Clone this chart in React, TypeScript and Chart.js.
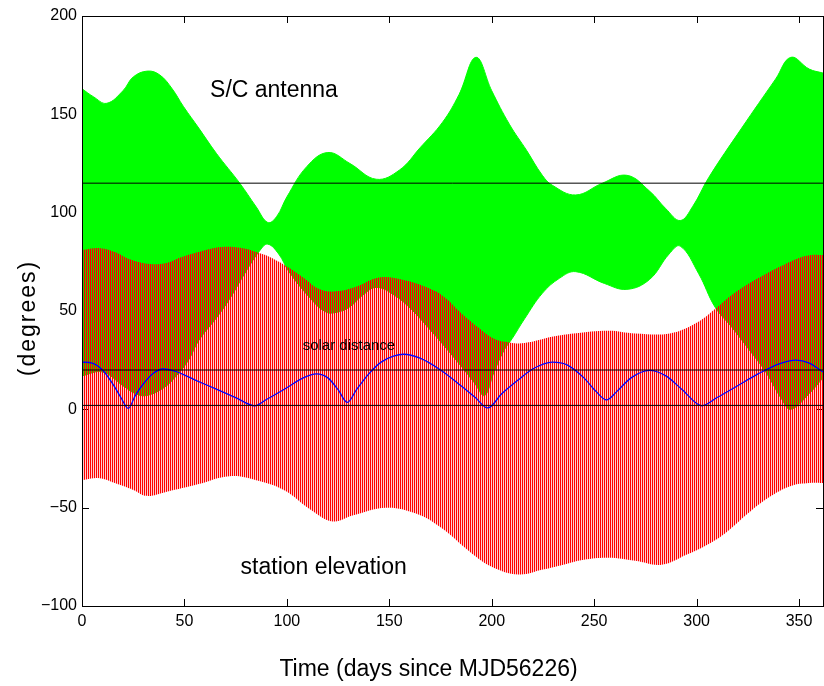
import React, { useEffect, useRef } from "react";
import { Chart, registerables } from "chart.js";

Chart.register(...registerables);

const X_MIN = 0;
const X_MAX = 361.7;
const Y_MIN = -100;
const Y_MAX = 200;
const xTickValues = [0, 50, 100, 150, 200, 250, 300, 350];
const yTickValues = [-100, -50, 0, 50, 100, 150, 200];

// S/C antenna band (upper and lower envelopes)
const antennaUpperDay = [0, 5.5, 12, 20, 25, 32, 38, 44, 49.5, 57, 65.7, 77, 85, 90.7, 95, 100, 109.7, 120, 130.8, 143.6, 155, 165, 176, 184, 192.3, 200, 208.6, 217, 224.7, 229.5, 241, 254, 266, 277, 285, 292, 298, 306, 322, 338.6, 346, 355, 361.7];
const antennaUpperDeg = [163, 159, 155.6, 162, 169, 172, 170, 163, 154, 143, 130, 115, 103, 95, 98, 108, 123.4, 130.6, 125, 117, 121.7, 133, 146, 160, 179, 162, 145, 131.7, 119, 114, 109, 115, 119, 111, 102, 96, 103, 118, 143, 168, 179, 173, 171];
const antennaLowerDay = [0, 10, 20, 26, 31.5, 40, 46, 52, 57, 66, 72, 80, 87, 90.7, 96, 101, 111, 119, 125, 130.6, 137, 143.7, 152.5, 161, 168.6, 177, 185, 191.5, 196.5, 201, 206, 210, 216, 224.7, 233, 241, 255, 266, 277, 286.6, 292, 301, 309, 317, 325.5, 334, 341.6, 346, 355, 361.7];
const antennaLowerDeg = [17, 19, 12, 8, 7, 11, 17, 25, 35, 47, 56, 70, 81, 84, 79, 70, 57, 49.5, 49.5, 52, 58, 62, 58, 50.6, 42, 32, 22, 13.5, 7, 18.6, 30, 36, 46, 59, 66.6, 70, 64, 61, 66, 79, 83, 69, 52, 42, 30.5, 18.6, 5, 0, 8, 16];

// Station elevation band (upper and lower envelopes)
const stationUpperDay = [0, 8, 16, 24, 32, 40.6, 48.7, 57, 68, 78, 85, 91.6, 101, 108, 116, 124, 134, 145, 156, 169.6, 177, 185, 193, 201, 208.6, 216, 230, 240, 257, 270, 287, 300, 309, 317, 325.5, 334, 341.6, 350, 356, 361.7];
const stationUpperDeg = [81, 82, 80, 76, 74, 74.3, 77.5, 80, 82.5, 82, 80, 77.5, 72, 67, 61, 60, 62.5, 67, 66, 61.5, 57, 49, 42, 36, 34, 33.7, 37, 38.6, 40, 38.6, 38.6, 44, 51, 58, 64, 69, 73, 77, 78.5, 78.5];
const stationLowerDay = [0, 8.5, 16, 25, 31.6, 41, 57, 72, 85, 98.5, 111.6, 122.5, 132, 148.5, 163, 175, 190, 200, 213, 225, 235, 245, 257, 270, 283, 295, 305, 314, 325, 335, 346, 355, 361.7];
const stationLowerDeg = [-36, -35, -37.5, -41, -44, -42, -38, -34, -36, -41, -51, -57, -54, -50, -53, -60, -73, -80, -84, -81.5, -79, -76.5, -75.5, -77, -79, -74, -69, -63, -53, -45, -39, -37.5, -37.5];

// Solar distance
const solarDay = [0, 5, 10, 15, 19, 22.6, 26, 30, 35, 39.6, 45, 55, 65, 75, 84.3, 90, 100, 108, 114.4, 120, 125, 129.5, 134, 140, 146, 152, 157, 165, 175, 185, 192, 198, 205, 213, 220, 229.6, 237, 245, 251, 256, 261, 268, 277, 285, 293, 302.6, 310, 320, 330, 340, 348.5, 355, 361.7];
const solarDeg = [24, 23.5, 20, 13, 6, 0.5, 7, 13, 18.5, 20.5, 19.5, 15, 10.5, 6, 1.8, 5, 11, 16, 18, 16, 10, 3.5, 10, 18, 24, 27, 28, 26, 20, 12, 6, 0.7, 8, 15, 20.5, 24, 22.5, 16, 9, 4.8, 9, 16, 19.8, 17, 10, 1.8, 6, 12, 18, 23, 25, 23.5, 19];

// Horizontal reference levels
const referenceLevels = [115, 20, 2];

// In-plot labels
const annotationTexts = ["S/C antenna", "solar distance", "station elevation"];
const annotationDays = [62.5, 107.7, 77.4];
const annotationDegs = [159, 30.2, -83.7];
const annotationSizes = [23, 15, 23];

const xAxisTitle = "Time (days since MJD56226)";
const yAxisTitle = "(degrees)";

const FONT = "'Liberation Sans', Arial, Helvetica, sans-serif";

const pts = (xs: number[], ys: number[]) => xs.map((x, i) => ({ x, y: ys[i] }));

export default function App() {
  const ref = useRef<HTMLCanvasElement>(null);

  useEffect(() => {
    const canvas = ref.current!;
    const ctx = canvas.getContext("2d")!;
    const pc = document.createElement("canvas");
    pc.width = 2;
    pc.height = 1;
    const p = pc.getContext("2d")!;
    p.fillStyle = "rgb(255,0,0)";
    p.fillRect(0, 0, 1, 1);
    p.fillStyle = "rgba(255,0,0,0.2)";
    p.fillRect(1, 0, 1, 1);
    const redPattern = ctx.createPattern(pc, "repeat");

    const decor = {
      id: "decor",
      beforeDatasetsDraw(chart: any) {
        const c = chart.ctx;
        const { left, right, top, bottom } = chart.chartArea;
        const xs = chart.scales.x;
        const ys = chart.scales.y;
        c.save();
        c.strokeStyle = "#000";
        c.lineWidth = 1;
        c.beginPath();
        const tl = 7;
        xTickValues.forEach((v) => {
          const px = Math.round(xs.getPixelForValue(v)) + 0.5;
          c.moveTo(px, bottom);
          c.lineTo(px, bottom - tl);
          c.moveTo(px, top);
          c.lineTo(px, top + tl);
        });
        yTickValues.forEach((v) => {
          const py = Math.round(ys.getPixelForValue(v)) + 0.5;
          c.moveTo(left, py);
          c.lineTo(left + tl, py);
          c.moveTo(right, py);
          c.lineTo(right - tl, py);
        });
        c.stroke();
        c.restore();
      },
      afterDatasetsDraw(chart: any) {
        const c = chart.ctx;
        const { left, right, top, bottom } = chart.chartArea;
        const xs = chart.scales.x;
        const ys = chart.scales.y;
        c.save();
        c.strokeStyle = "#000";
        c.lineWidth = 1;
        c.strokeRect(Math.round(left) + 0.5, Math.round(top) + 0.5, Math.round(right - left), Math.round(bottom - top));
        c.fillStyle = "#000";
        c.textAlign = "left";
        c.textBaseline = "alphabetic";
        annotationTexts.forEach((t, i) => {
          c.font = `${annotationSizes[i]}px ${FONT}`;
          c.fillText(t, xs.getPixelForValue(annotationDays[i]), ys.getPixelForValue(annotationDegs[i]));
        });
        c.font = `23px ${FONT}`;
        c.textAlign = "center";
        c.fillText(xAxisTitle, 428.5, 676);
        c.save();
        c.translate(35, 318);
        c.rotate(-Math.PI / 2);
        c.font = `23px ${FONT}`;
        try { (c as any).letterSpacing = "2px"; } catch (e) {}
        c.fillText(yAxisTitle, 0, 0);
        c.restore();
        c.restore();
      },
    };

    const hline = (v: number) => ({
      data: [{ x: X_MIN, y: v }, { x: X_MAX, y: v }],
      borderColor: "#000",
      borderWidth: 1,
      pointRadius: 0,
      fill: false,
    });

    const chart = new Chart(canvas, {
      type: "line",
      data: {
        datasets: [
          ...referenceLevels.map(hline),
          {
            data: pts(solarDay, solarDeg),
            borderColor: "rgb(0,0,255)",
            borderWidth: 1.3,
            pointRadius: 0,
            fill: false,
            cubicInterpolationMode: "monotone",
          },
          {
            data: pts(stationUpperDay, stationUpperDeg),
            borderColor: "rgba(0,0,0,0)",
            borderWidth: 0,
            backgroundColor: redPattern as any,
            pointRadius: 0,
            fill: "+1",
            tension: 0.4,
          },
          {
            data: pts(stationLowerDay, stationLowerDeg),
            borderColor: "rgba(0,0,0,0)",
            borderWidth: 0,
            pointRadius: 0,
            fill: false,
            tension: 0.4,
          },
          {
            data: pts(antennaUpperDay, antennaUpperDeg),
            borderColor: "rgb(0,255,0)",
            borderWidth: 1,
            backgroundColor: "rgb(0,255,0)",
            pointRadius: 0,
            fill: "+1",
            tension: 0.4,
          },
          {
            data: pts(antennaLowerDay, antennaLowerDeg),
            borderColor: "rgb(0,255,0)",
            borderWidth: 1,
            pointRadius: 0,
            fill: false,
            tension: 0.4,
          },
        ] as any,
      },
      options: {
        responsive: false,
        devicePixelRatio: 1,
        animation: false,
        layout: { padding: { left: 0, right: 1, top: 16, bottom: 0 } },
        plugins: { legend: { display: false }, tooltip: { enabled: false } },
        scales: {
          x: {
            type: "linear",
            min: X_MIN,
            max: X_MAX,
            afterBuildTicks: (s: any) => {
              s.ticks = xTickValues.map((v) => ({ value: v }));
            },
            afterFit: (s: any) => {
              s.height = 80;
            },
            grid: { display: false, drawTicks: false },
            border: { display: false },
            ticks: {
              color: "#000",
              font: { family: FONT, size: 16 },
              padding: 6,
              maxRotation: 0,
              autoSkip: false,
            },
          },
          y: {
            type: "linear",
            min: Y_MIN,
            max: Y_MAX,
            afterBuildTicks: (s: any) => {
              s.ticks = yTickValues.map((v) => ({ value: v }));
            },
            afterFit: (s: any) => {
              s.width = 82;
            },
            grid: { display: false, drawTicks: false },
            border: { display: false },
            ticks: {
              color: "#000",
              font: { family: FONT, size: 16 },
              padding: 5,
              autoSkip: false,
              callback: (v: any) => (Number(v) < 0 ? "\u2212" + Math.abs(Number(v)) : String(v)),
            },
          },
        },
      } as any,
      plugins: [decor],
    });
    return () => chart.destroy();
  }, []);

  return (
    <div style={{ position: "absolute", left: 0, top: 0, width: 824, height: 686, background: "#fff" }}>
      <canvas ref={ref} width={824} height={686} style={{ display: "block", width: 824, height: 686 }} />
    </div>
  );
}
